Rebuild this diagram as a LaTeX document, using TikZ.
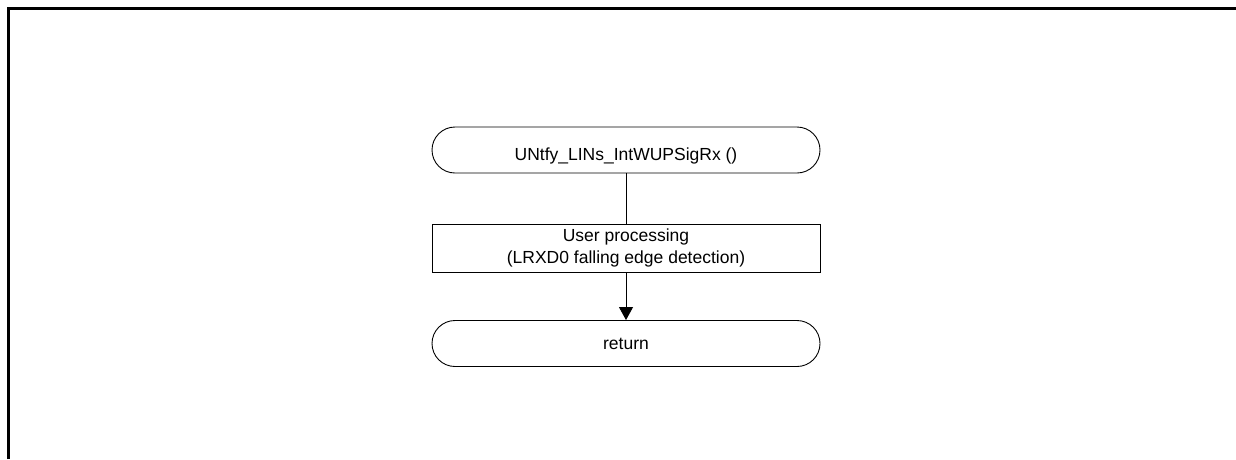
\documentclass[tikz,border=0pt]{standalone}
\usepackage{fontspec}
\setmainfont{Liberation Sans}
\usetikzlibrary{arrows.meta}

\begin{document}
\begin{tikzpicture}[x=1pt,y=-1pt]
      \tikzset{>={Triangle[width=14pt,length=13pt]}}
      \tikzset{term/.style={shape=rectangle,rounded corners=23pt,draw=black,line width=0.9pt,minimum width=388pt,minimum height=46pt,inner sep=0pt,font=\fontsize{17.5}{21.5}\selectfont}}
      \tikzset{proc/.style={shape=rectangle,draw=black,line width=0.9pt,minimum width=388pt,minimum height=48pt,inner sep=0pt,align=center,font=\fontsize{17.5}{21.5}\selectfont}}

      \useasboundingbox (0,0) rectangle (1236,459);
      \draw[line width=3pt] (8.5,459) -- (8.5,8.5) -- (1236,8.5);

      \node[term,text height=20pt,text depth=0pt](start) at (626,150) {UNtfy\_LINs\_IntWUPSigRx ()};
      \node[proc](user) at (626,248) {User processing\\(LRXD0 falling edge detection)};
      \node[term](ret) at (626,343.5) {return};

      \draw [line width=0.9pt] (start) -- (user);
      \draw [->,line width=0.9pt] (user) edge (ret);
    \end{tikzpicture}
\end{document}
